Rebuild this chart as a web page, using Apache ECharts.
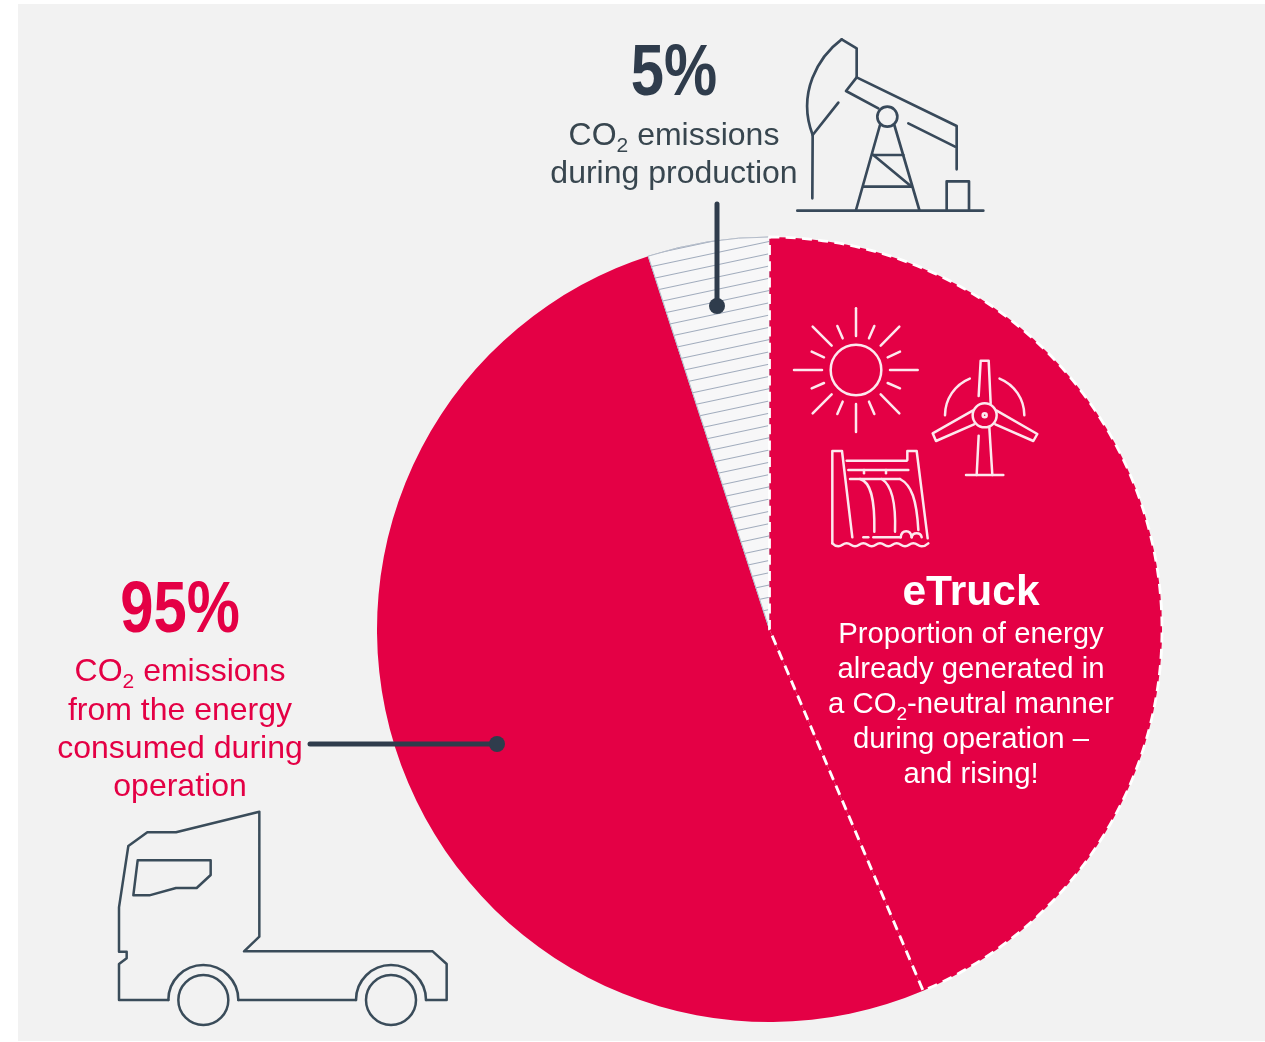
<!DOCTYPE html>
<html>
<head>
<meta charset="utf-8">
<title>CO2 emissions of an eTruck</title>
<style>
  html, body { margin: 0; padding: 0; background: #fff; }
  #panel { position: absolute; left: 18px; top: 4px; width: 1247px; height: 1037px; background: #f2f2f2; }
  #chart { position: absolute; left: 0; top: 0; width: 1265px; height: 1042px; }
</style>
<script src="https://cdn.jsdelivr.net/npm/echarts@6/dist/echarts.min.js"></script>
</head>
<body>
<div id="panel"></div>
<div id="chart"></div>
<script>
// Lifecycle CO2 shares, in percent of the whole pie. Operation (95) is split
// into its fossil part and the part already generated in a CO2-neutral manner.
const categories = ['Operation, conventional energy', 'Production', 'Operation, CO2-neutral energy'];
const shares = [51.4, 5, 43.6];

const RED = '#e40045';
const DARK = '#2f3c4c';
const SLATE = '#38464f';
const FONT = '"Liberation Sans", Arial, sans-serif';

const headlineTexts = [
  { text: '5%', x: 674, y: 75, fill: DARK },
  { text: '95%', x: 180, y: 612, fill: RED }
];
const productionLines = ['{t|CO}{s|2}{t| emissions}', 'during production'];
const operationLines = ['{t|CO}{s|2}{t| emissions}', 'from the energy', 'consumed during', 'operation'];
const eTruckLines = ['Proportion of energy', 'already generated in', '{t|a CO}{s|2}{t|-neutral manner}', 'during operation \u2013', 'and rising!'];

// The subscript hangs from the bottom of a slightly taller line while the
// main text keeps to its top, which drops the digit below the baseline.
function label(x, y, text, fill, size, subSize, weight) {
  return {
    type: 'text', x, y,
    style: {
      text, fill,
      font: (weight || 'normal') + ' ' + size + 'px ' + FONT,
      textAlign: 'center', textVerticalAlign: 'middle',
      rich: {
        t: { fontFamily: FONT, fontSize: size, fill, height: size + 6, lineHeight: size + 8, verticalAlign: 'top' },
        s: { fontFamily: FONT, fontSize: subSize, fill, height: subSize, lineHeight: size + 8, verticalAlign: 'bottom' }
      }
    }
  };
}

// Icons are laid out on a grid three times finer than the page.
function icon(x, y, color, width, items) {
  return {
    type: 'group', x, y, scaleX: 1 / 3, scaleY: 1 / 3,
    children: items.map(function (it) {
      const s = { stroke: color, lineWidth: width, fill: null, lineCap: 'round', lineJoin: 'round' };
      return Object.assign({}, it, { style: s });
    })
  };
}
const poly = (points, smooth) => ({ type: 'polyline', shape: { points, smooth: smooth || 0 } });
const ring = (cx, cy, r) => ({ type: 'circle', shape: { cx, cy, r } });
const arc = (cx, cy, r, a, b) => ({ type: 'arc', shape: { cx, cy, r, startAngle: a * Math.PI / 180, endAngle: b * Math.PI / 180, clockwise: true } });
const bez = (x1, y1, cpx1, cpy1, cpx2, cpy2, x2, y2) => ({ type: 'bezierCurve', shape: { x1, y1, cpx1, cpy1, cpx2, cpy2, x2, y2 } });

const pumpIcon = icon(540, 20, '#38495a', 8, [
  poly([[905, 58], [950, 85], [950, 172], [918, 213], [1015, 265]]),
  bez(905, 58, 835, 110, 770, 220, 818, 345),
  poly([[895, 248], [818, 345], [817, 535]]),
  poly([[950, 172], [1250, 318], [1250, 448]]),
  poly([[1105, 310], [1245, 380]]),
  ring(1042, 290, 30),
  poly([[1020, 315], [948, 570]]),
  poly([[1063, 315], [1138, 570]]),
  poly([[1000, 405], [1090, 405]]),
  poly([[970, 500], [1115, 500]]),
  poly([[1000, 405], [1115, 500]]),
  poly([[1220, 570], [1220, 484], [1287, 484], [1287, 570]]),
  poly([[772, 572], [1330, 572]])
]);

const sunIcon = icon(780, 290, '#fde8ee', 7.5, [
  ring(228, 240, 76),
  poly([[228, 55], [228, 138]]), poly([[228, 342], [228, 426]]),
  poly([[42, 240], [126, 240]]), poly([[330, 240], [413, 240]]),
  poly([[98, 110], [155, 167]]), poly([[358, 110], [302, 167]]),
  poly([[98, 370], [155, 313]]), poly([[358, 370], [302, 313]]),
  poly([[172, 108], [188, 145]]), poly([[283, 108], [267, 145]]),
  poly([[95, 185], [132, 202]]), poly([[360, 185], [323, 202]]),
  poly([[95, 295], [132, 279]]), poly([[360, 295], [323, 279]]),
  poly([[172, 372], [188, 335]]), poly([[283, 372], [267, 335]])
]);

const turbineIcon = icon(780, 290, '#fde8ee', 7.5, [
  ring(614, 376, 36), ring(614, 376, 6),
  poly([[596, 318], [602, 212], [626, 212], [632, 340]]),
  poly([[578, 362], [458, 430], [468, 453], [582, 403]]),
  poly([[650, 362], [772, 432], [760, 453], [646, 403]]),
  poly([[596, 437], [590, 555]]),
  poly([[628, 412], [637, 555]]),
  poly([[558, 555], [670, 555]]),
  arc(614, 376, 119, 180, 248),
  arc(614, 376, 119, 292, 360)
]);

const damIcon = icon(780, 290, '#fde8ee', 7.5, [
  poly([[157, 760], [157, 483], [186, 483], [217, 742]]),
  poly([[382, 510], [382, 483], [410, 483], [443, 745]]),
  poly([[200, 512], [380, 512]]),
  poly([[205, 540], [385, 540]]),
  poly([[252, 540], [252, 550]]),
  poly([[318, 540], [318, 550]]),
  poly([[210, 567], [360, 567]]),
  bez(240, 567, 270, 575, 285, 620, 283, 725),
  bez(305, 567, 335, 585, 348, 640, 345, 725),
  bez(360, 567, 395, 585, 410, 630, 415, 720),
  poly([[250, 742], [265, 742]]),
  poly([[280, 742], [362, 742]]),
  bez(362, 742, 365, 718, 392, 718, 395, 742),
  bez(395, 742, 398, 726, 422, 726, 425, 742),
  poly([[157, 760], [175, 769], [200, 760], [225, 769], [250, 760], [275, 769], [300, 760], [325, 769], [350, 760], [375, 769], [400, 760], [425, 769], [445, 760]], 0.5)
]);

const truckIcon = icon(100, 790, '#3a4c5a', 7.5, [
  poly([[205, 630], [57, 630], [57, 522], [80, 505], [80, 485], [57, 485], [57, 352], [85, 168], [142, 127], [228, 127],
        [478, 65], [478, 440], [432, 484], [998, 484], [1040, 522], [1040, 630], [978, 630]]),
  arc(873, 630, 105, 180, 360),
  poly([[768, 630], [415, 630]]),
  arc(310, 630, 105, 180, 360),
  poly([[113, 211], [332, 211], [332, 255], [290, 294], [228, 294], [148, 316], [100, 316], [113, 211]]),
  ring(310, 630, 75),
  ring(873, 630, 75)
]);

const leaderTop = { type: 'line', shape: { x1: 717, y1: 204, x2: 717, y2: 306 }, style: { stroke: DARK, lineWidth: 5, lineCap: 'round' } };
const leaderTopDot = { type: 'circle', shape: { cx: 717, cy: 306, r: 8 }, style: { fill: DARK } };
const leaderLeft = { type: 'line', shape: { x1: 310, y1: 744, x2: 497, y2: 744 }, style: { stroke: DARK, lineWidth: 5, lineCap: 'round' } };
const leaderLeftDot = { type: 'circle', shape: { cx: 497, cy: 744, r: 8 }, style: { fill: DARK } };

const headlines = headlineTexts.map(h => ({
  type: 'text', x: h.x, y: h.y, scaleX: 0.83,
  style: { text: h.text, fill: h.fill, font: 'bold 72px ' + FONT, textAlign: 'center', textVerticalAlign: 'middle' }
}));

// Rich lines carry the subscript and sit slightly differently from plain ones.
const productionY = [137, 174];
const operationY = [673, 711, 749, 787];
const eTruckY = [634.5, 669.5, 706, 739.5, 774.5];

const texts = []
  .concat(productionLines.map((t, i) => label(674, productionY[i], t, SLATE, 32, 21)))
  .concat(operationLines.map((t, i) => label(180, operationY[i], t, RED, 32, 21)))
  .concat([label(971, 593, 'eTruck', '#ffffff', 42.5, 26, 'bold')])
  .concat(eTruckLines.map((t, i) => label(971, eTruckY[i], t, '#ffffff', 29.3, 19)));

// Everything drawn on top of the pie goes above it in the stacking order.
function raise(el) {
  el.z = 10;
  (el.children || []).forEach(raise);
  return el;
}

const seriesData = categories.map(function (name, i) {
  const styles = [
    { color: RED, borderWidth: 0 },
    {
      color: '#ffffff',
      borderColor: '#b4bcc9',
      borderWidth: 1,
      decal: {
        symbol: 'rect', symbolSize: 1, color: '#a0abbc', backgroundColor: '#f7f7f8',
        dashArrayX: [1, 0], dashArrayY: [1, 11], rotation: -0.21
      }
    },
    { color: RED, borderColor: '#ffffff', borderWidth: 2.8, borderType: [10, 6.3] }
  ];
  return { name, value: shares[i], itemStyle: styles[i] };
});

const chart = echarts.init(document.getElementById('chart'), null, { renderer: 'canvas' });
chart.setOption({
  animation: false,
  backgroundColor: 'transparent',
  graphic: {
    elements: [pumpIcon, sunIcon, turbineIcon, damIcon, truckIcon,
      leaderTop, leaderTopDot, leaderLeft, leaderLeftDot].concat(headlines, texts).map(raise)
  },
  series: [{
    type: 'pie',
    z: 1,
    center: [769.5, 629.5],
    radius: [0, 392.5],
    // The CO2-neutral slice is drawn last and ends at twelve o'clock after the clockwise sweep.
    startAngle: 90 - shares[2] * 3.6,
    silent: true,
    label: { show: false },
    labelLine: { show: false },
    emphasis: { disabled: true },
    data: seriesData
  }]
});
</script>
</body>
</html>
